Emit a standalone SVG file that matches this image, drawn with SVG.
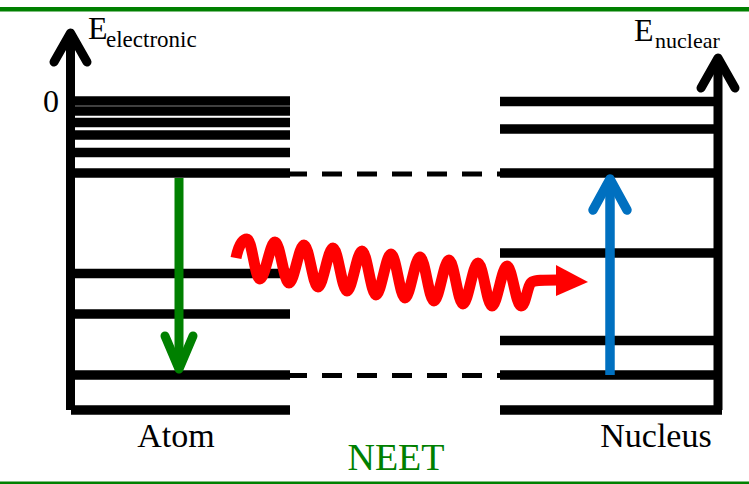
<svg xmlns="http://www.w3.org/2000/svg" width="749" height="484" viewBox="0 0 749 484">
<style>
.lvl{stroke:#000;stroke-width:9.5;fill:none}
.ax{stroke:#000;stroke-width:9;fill:none}
.axh{stroke:#000;stroke-width:9;fill:none;stroke-linecap:round;stroke-linejoin:round}
.dash{stroke:#000;stroke-width:5;stroke-dasharray:20 15;fill:none}
.rule{stroke:#008000;fill:none}
.t{font-family:"Liberation Serif","Times New Roman",serif;fill:#000}
</style>
<rect width="749" height="484" fill="#fff"/>
<line class="rule" x1="0" y1="9.3" x2="749" y2="9.3" stroke-width="4.6"/>
<line class="rule" x1="0" y1="482.8" x2="749" y2="482.8" stroke-width="2.5"/>

<g id="atom">
  <line class="ax" x1="70.5" y1="410" x2="70.5" y2="36"/>
  <polyline class="axh" points="54,62 70.5,33 87,62"/>
  <g>
    <line class="lvl" x1="75" y1="101" x2="290" y2="101"/>
    <line class="lvl" x1="75" y1="111" x2="290" y2="111"/>
    <line class="lvl" x1="75" y1="122.5" x2="290" y2="122.5"/>
    <line class="lvl" x1="75" y1="135" x2="290" y2="135"/>
    <line class="lvl" x1="75" y1="152.5" x2="290" y2="152.5"/>
    <line class="lvl" x1="75" y1="173" x2="290" y2="173"/>
    <line class="lvl" x1="75" y1="273.5" x2="290" y2="273.5"/>
    <line class="lvl" x1="75" y1="314" x2="290" y2="314"/>
    <line class="lvl" x1="75" y1="375" x2="290" y2="375"/>
    <line class="lvl" x1="71" y1="410" x2="290" y2="410"/>
  </g>
  <text class="t" x="88" y="39" font-size="32">E</text>
  <text class="t" x="106" y="47" font-size="23">electronic</text>
  <text class="t" x="43" y="112" font-size="32">0</text>
  <text class="t" x="176" y="447" font-size="34" text-anchor="middle">Atom</text>
</g>

<g id="nucleus">
  <line class="ax" x1="718" y1="410" x2="718" y2="61"/>
  <polyline class="axh" points="701,88 718,58 735,88"/>
  <g>
    <line class="lvl" x1="500" y1="101.5" x2="718" y2="101.5"/>
    <line class="lvl" x1="500" y1="129" x2="718" y2="129"/>
    <line class="lvl" x1="500" y1="173" x2="718" y2="173"/>
    <line class="lvl" x1="500" y1="253" x2="718" y2="253"/>
    <line class="lvl" x1="500" y1="340.5" x2="718" y2="340.5"/>
    <line class="lvl" x1="500" y1="375" x2="718" y2="375"/>
    <line class="lvl" x1="500" y1="410" x2="722" y2="410"/>
  </g>
  <text class="t" x="634" y="41" font-size="32">E</text>
  <text class="t" x="655" y="48" font-size="22">nuclear</text>
  <text class="t" x="656" y="447" font-size="34" text-anchor="middle">Nucleus</text>
</g>

<g id="neet">
  <text class="t" x="396" y="470" font-size="38" text-anchor="middle" style="fill:#008000">NEET</text>
</g>

<g id="connectors">
  <line class="dash" x1="287" y1="174" x2="500" y2="174"/>
  <line class="dash" x1="287" y1="375.5" x2="500" y2="375.5"/>
  <g id="green-arrow" stroke="#008000" stroke-width="9" fill="none" stroke-linecap="round" stroke-linejoin="round">
    <line x1="179" y1="178" x2="179" y2="367" stroke-linecap="butt"/>
    <polyline points="165,336 179,369 193,336"/>
  </g>
  <g id="blue-arrow" stroke="#0070C0" stroke-width="9.5" fill="none" stroke-linecap="round" stroke-linejoin="round">
    <line x1="610" y1="375" x2="610" y2="181" stroke-linecap="butt"/>
    <polyline points="593,210 610,179 627,210"/>
  </g>
  <g id="photon">
    <path d="M236,258 C238,248 242,239 247,239 C252,239 255,279 260,279 C265,279 270,242 275,242 C280,242 284,283 289,283 C294,283 299,245 304,245 C309,245 313,287 318,287 C323,287 328,248 333,248 C338,248 342,291 347,291 C352,291 357,251 362,251 C367,251 371,295 376,295 C381,295 386,254 391,254 C396,254 400,298 405,298 C410,298 415,257 420,257 C425,257 429,301 434,301 C439,301 444,260 449,260 C454,260 458,304 463,304 C468,304 473,263 478,263 C483,263 487,306 492,306 C497,306 502,266 507,266 C512,266 516,306 521,306 C526,306 527,285 532,282 C536,280 542,280 558,280" stroke="#ff0000" stroke-width="11" fill="none" stroke-linejoin="round"/>
    <polygon points="556,265 588,282 556,296" fill="#ff0000"/>
  </g>
</g>
</svg>
